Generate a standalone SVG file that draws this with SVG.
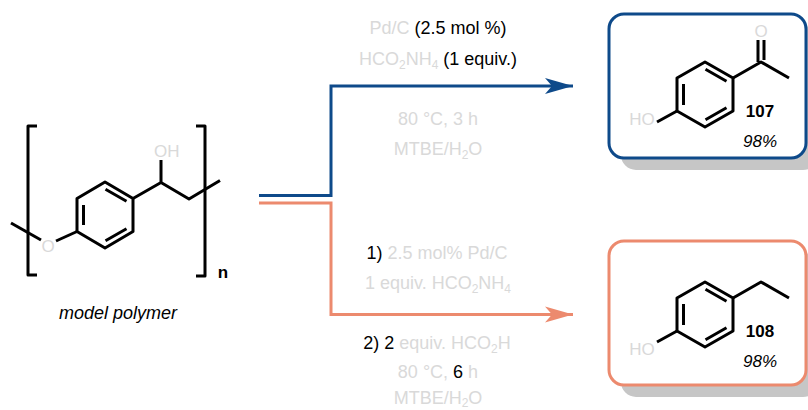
<svg xmlns="http://www.w3.org/2000/svg" width="808" height="410" viewBox="0 0 808 410">
<defs>
<style>
.bond{fill:none;stroke:#000;stroke-width:3;stroke-linecap:butt;stroke-linejoin:round}
.atom{font-family:"Liberation Sans",Arial,sans-serif;font-size:17px;fill:#d9d9d9}
.cond{font-family:"Liberation Sans",Arial,sans-serif;font-size:18px;fill:#d9d9d9;text-anchor:middle}
.k{fill:#000}
.sub{font-size:12px}
.lbl{font-family:"Liberation Sans",Arial,sans-serif;font-size:17px;fill:#000;text-anchor:middle}
.shadow{fill:#c6c6c6}
</style>
<marker id="ahB" markerUnits="userSpaceOnUse" markerWidth="30" markerHeight="18" refX="28" refY="8" orient="auto" viewBox="0 0 30 16">
<path d="M28,8 L0,0 L7,8 L0,16 Z" fill="#0e4a8a"/>
</marker>
<marker id="ahO" markerUnits="userSpaceOnUse" markerWidth="30" markerHeight="18" refX="28" refY="8" orient="auto" viewBox="0 0 30 16">
<path d="M28,8 L0,0 L7,8 L0,16 Z" fill="#ec8a6e"/>
</marker>
</defs>
<rect width="808" height="410" fill="#fff"/>

<g id="connectors">
<path d="M259,195.5 H331 V86 H573" fill="none" stroke="#0e4a8a" stroke-width="3" marker-end="url(#ahB)"/>
<path d="M259,203 H331 V314.5 H573" fill="none" stroke="#ec8a6e" stroke-width="3" marker-end="url(#ahO)"/>
</g>

<g id="polymer">
<path class="bond" d="M37,126 H28 V275 H37"/>
<path class="bond" d="M196,126 H205 V276 H196"/>
<path class="bond" d="M11,223 L41,240"/>
<path class="bond" d="M56,241 L77,231.5"/>
<path class="bond" d="M105,182 L133,198.5 L133,231.5 L105,248 L77,231.5 L77,198.5 Z"/>
<path class="bond" d="M83.5,205 V225 M105.5,189.2 L126.5,201.2 M105.5,240.8 L126.5,228.8"/>
<path class="bond" d="M133,198.5 L161,182.5 L189,199 L220,180.5 M161,182.5 V160"/>
<text class="atom" x="48" y="252" text-anchor="middle">O</text>
<text class="atom" x="154" y="157">OH</text>
<text x="223" y="278" text-anchor="middle" font-family="Liberation Sans, Arial, sans-serif" font-size="17" font-weight="bold">n</text>
<text x="118" y="319" text-anchor="middle" font-family="Liberation Sans, Arial, sans-serif" font-size="18" font-style="italic">model polymer</text>
</g>

<g id="conditions-top">
<text class="cond" x="438" y="34">Pd/C<tspan class="k"> (2.5 mol %)</tspan></text>
<text class="cond" x="438" y="65">HCO<tspan class="sub" dy="4">2</tspan><tspan dy="-4">NH</tspan><tspan class="sub" dy="4">4</tspan><tspan class="k" dy="-4"> (1 equiv.)</tspan></text>
<text class="cond" x="438" y="125">80 °C, 3 h</text>
<text class="cond" x="438" y="155">MTBE/H<tspan class="sub" dy="4">2</tspan><tspan dy="-4">O</tspan></text>
</g>

<g id="conditions-bottom">
<text class="cond" x="437" y="259"><tspan class="k">1)</tspan> 2.5 mol% Pd/C</text>
<text class="cond" x="438" y="289">1 equiv. HCO<tspan class="sub" dy="4">2</tspan><tspan dy="-4">NH</tspan><tspan class="sub" dy="4">4</tspan></text>
<text class="cond" x="437" y="349"><tspan class="k">2) 2</tspan> equiv. HCO<tspan class="sub" dy="4">2</tspan><tspan dy="-4">H</tspan></text>
<text class="cond" x="438" y="378">80 °C, <tspan class="k">6</tspan> h</text>
<text class="cond" x="438" y="404">MTBE/H<tspan class="sub" dy="3">2</tspan><tspan dy="-3">O</tspan></text>
</g>

<g id="product-107">
<rect class="shadow" x="621" y="26" width="197" height="144" rx="15"/>
<rect x="609" y="14" width="197" height="144" rx="15" fill="#fff" stroke="#0e4a8a" stroke-width="3"/>
<path class="bond" d="M705,62 L733,78 L733,111 L705,127 L677,111 L677,78 Z"/>
<path class="bond" d="M683.5,84 V105 M705.5,69.2 L726.5,81.2 M705.5,119.8 L726.5,107.8"/>
<path class="bond" d="M677,111 L657,122 M733,78 L761,62 L789,78 M758,62 V40 M764,60 V40"/>
<text class="atom" x="642" y="125" text-anchor="middle">HO</text>
<text class="atom" x="761" y="37" text-anchor="middle">O</text>
<text class="lbl" x="760" y="117" font-weight="bold">107</text>
<text class="lbl" x="760" y="147" font-style="italic">98%</text>
</g>

<g id="product-108">
<rect class="shadow" x="621" y="253" width="197" height="144" rx="15"/>
<rect x="609" y="241" width="197" height="144" rx="15" fill="#fff" stroke="#ec8a6e" stroke-width="3"/>
<path class="bond" d="M705,282 L733,298 L733,331 L705,347 L677,331 L677,298 Z"/>
<path class="bond" d="M683.5,304 V325 M705.5,289.2 L726.5,301.2 M705.5,339.8 L726.5,327.8"/>
<path class="bond" d="M677,331 L657,342 M733,298 L761,282 L789,298"/>
<text class="atom" x="642" y="355" text-anchor="middle">HO</text>
<text class="lbl" x="760" y="337" font-weight="bold">108</text>
<text class="lbl" x="760" y="367" font-style="italic">98%</text>
</g>
</svg>
